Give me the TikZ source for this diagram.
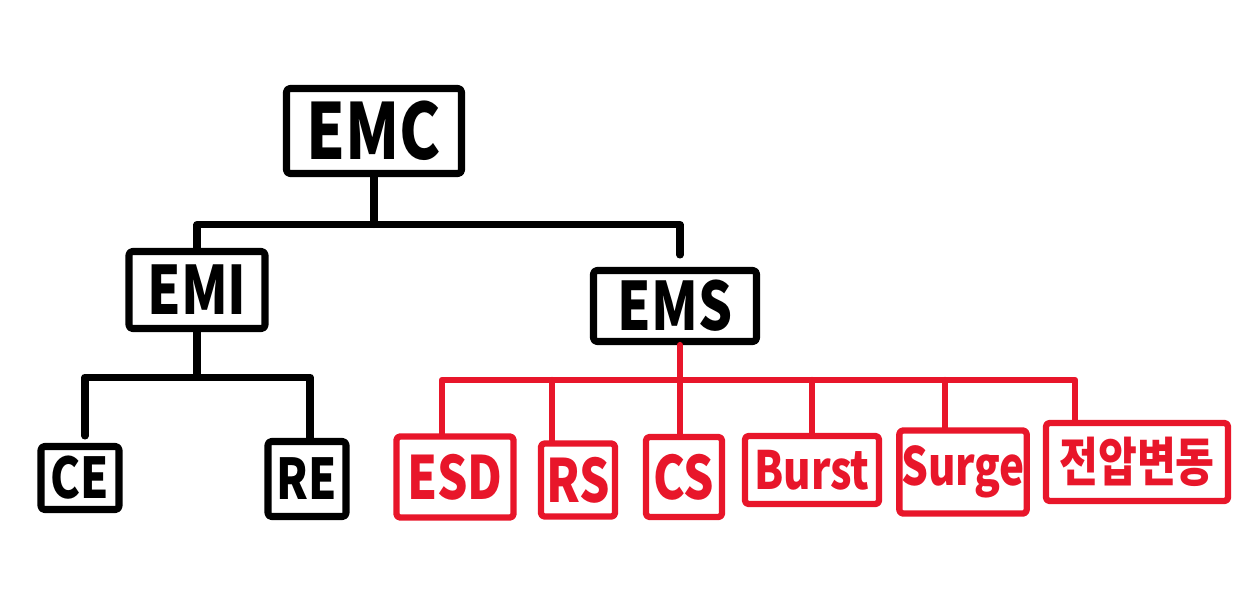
\documentclass[tikz,border=0pt]{standalone}
\usepackage{fontspec}
\setmainfont{Noto Sans CJK KR}[FakeStretch=0.8]
\usepackage{xcolor}
\usepackage{tikz}
\usetikzlibrary{calc,positioning}
\definecolor{MarkerBlack}{RGB}{0, 0, 0}
\definecolor{MarkerRed}{RGB}{232, 22, 42}

\begin{document}
\begin{tikzpicture}[
  box/.style={draw=MarkerBlack, line width=4pt, rounded corners=2pt, line join=round,
              align=center, inner sep=1pt, font=\bfseries\fontsize{38}{38}\selectfont},
  rbox/.style={box, draw=MarkerRed, text=MarkerRed, line width=3.6pt,
               font=\bfseries\fontsize{34}{34}\selectfont},
  wire/.style={draw=MarkerBlack, line width=4pt, line cap=round, line join=round},
  rwire/.style={wire, draw=MarkerRed, line width=3.6pt}]

  \useasboundingbox (0,0) rectangle (25,-12.06);

  % --- top levels ---
  \node[box, minimum width=3.5cm, minimum height=1.7cm, font=\bfseries\fontsize{44}{44}\selectfont]
       (emc) at (7.48,-2.62) {EMC};
  \node[box, minimum width=2.72cm, minimum height=1.54cm] (emi) at (3.94,-5.8)  {EMI};
  \node[box, minimum width=3.26cm, minimum height=1.42cm] (ems) at (13.5,-6.12) {EMS};

  \coordinate (b1) at ($(emc.south)+(0,-0.95)$);
  \draw[wire] (emc.south) -- (b1);
  \draw[wire, shorten >=0.24cm] (emi.north) |- (b1) -| ([xshift=0.1cm]ems.north);

  % --- EMI branch ---
  \node[box, minimum width=1.56cm, minimum height=1.26cm, font=\bfseries\fontsize{32}{32}\selectfont]
       (ce) at (1.6,-9.56)  {CE};
  \node[box, minimum width=1.56cm, minimum height=1.5cm, font=\bfseries\fontsize{32}{32}\selectfont]
       (re) at (6.14,-9.58) {RE};

  \coordinate (b2) at ($(emi.south)+(0,-0.9)$);
  \draw[wire] (emi.south) -- (b2);
  \draw[wire, shorten <=0.14cm] ([xshift=0.1cm]ce.north) |- (b2) -| ([xshift=0.06cm]re.north);

  % --- EMS branch (red) ---
  \node[rbox, minimum width=2.34cm, minimum height=1.62cm] (esd)   at (9.1,-9.54)   {ESD};
  \node[rbox, minimum width=1.48cm, minimum height=1.46cm] (rs)    at (11.56,-9.6)  {RS};
  \node[rbox, minimum width=1.52cm, minimum height=1.6cm]  (cs)    at (13.68,-9.54) {CS};
  \node[rbox, minimum width=2.68cm, minimum height=1.36cm, font=\bfseries\fontsize{30}{30}\selectfont]
       (burst) at (16.24,-9.4)  {Burst};
  \node[rbox, minimum width=2.52cm, minimum height=1.66cm, font=\bfseries\fontsize{30}{30}\selectfont]
       (surge) at (19.26,-9.44) {Surge};
  \node[rbox, minimum width=3.64cm, minimum height=1.56cm, font=\bfseries\fontsize{30}{30}\selectfont]
       (volt) at (22.74,-9.24) {전압변동};

  \coordinate (b3) at ($(ems.south)+(0.1,-0.7)$);
  \draw[rwire] ([xshift=0.1cm]ems.south) -- (b3);
  \draw[rwire] ([xshift=-0.26cm]esd.north) |- (b3) -| ([xshift=-1.24cm]volt.north);
  \draw[rwire] ([xshift=-0.52cm]rs.north) -- ([xshift=-0.52cm]rs.north |- b3);
  \draw[rwire] ([xshift=-0.08cm]cs.north) -- ([xshift=-0.08cm]cs.north |- b3);
  \draw[rwire] (burst.north) -- (burst.north |- b3);
  \draw[rwire] ([xshift=-0.36cm]surge.north) -- ([xshift=-0.36cm]surge.north |- b3);
\end{tikzpicture}
\end{document}
